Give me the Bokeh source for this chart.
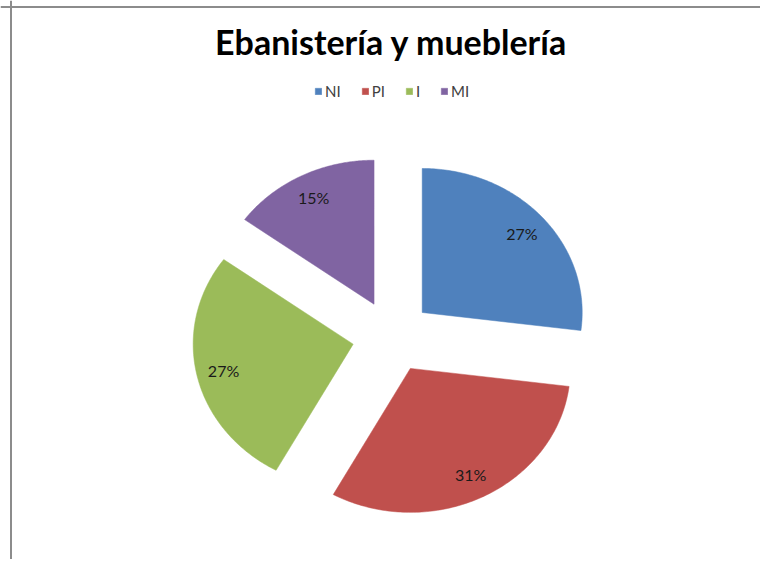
import numpy as np
from bokeh.plotting import figure
from bokeh.models import Range1d, ColumnDataSource, Legend, LegendItem, Label, Span
from bokeh.core.properties import value
from bokeh.embed import file_html
from bokeh.resources import INLINE

# ---- data ----
categories = ["NI", "PI", "I", "MI"]
percent = [27, 31, 27, 15]
colors = ["#4F81BD", "#C0504D", "#9BBB59", "#8064A2"]
title_text = "Ebanistería y mueblería"

# ---- layout (pixel-like data units, y downward) ----
W, H = 760, 559
CX, CY = 391.7, 335.8      # pie centre
RX, RY = 160.0, 144.0      # radii (chart is stretched horizontally)
EXPLODE = 0.25             # slice explosion as fraction of radius
LABEL_POS = 0.83

p = figure(width=W, height=H, output_backend="svg", toolbar_location=None,
           x_range=Range1d(0, W), y_range=Range1d(H, 0),
           min_border=0, outline_line_color=None)
p.axis.visible = False
p.grid.visible = False
p.background_fill_color = "white"
p.border_fill_color = "white"

# frame lines (left and top)
p.add_layout(Span(location=10.5, dimension="height", line_color="#8C8C8C", line_width=2))
p.add_layout(Span(location=6.5, dimension="width", line_color="#8C8C8C", line_width=2))

total = float(sum(percent))
xs, ys, lx, ly, labels = [], [], [], [], []
start = 0.0
for v in percent:
    sweep = 360.0 * v / total
    a0, a1 = np.radians(start), np.radians(start + sweep)
    mid = (a0 + a1) / 2
    ox = CX + EXPLODE * RX * np.sin(mid)
    oy = CY - EXPLODE * RY * np.cos(mid)
    t = np.linspace(a0, a1, 120)
    px = np.concatenate([[ox], ox + RX * np.sin(t)])
    py = np.concatenate([[oy], oy - RY * np.cos(t)])
    xs.append(list(px)); ys.append(list(py))
    lx.append(ox + LABEL_POS * RX * np.sin(mid))
    ly.append(oy - LABEL_POS * RY * np.cos(mid))
    labels.append(f"{round(100 * v / total)}%")
    start += sweep

rends = []
for i in range(len(categories)):
    r = p.patch(x=xs[i], y=ys[i], fill_color=colors[i], line_color=colors[i], line_width=0.5)
    rends.append(r)

lsrc = ColumnDataSource(dict(x=lx, y=ly, text=labels))
p.text(x="x", y="y", text="text", source=lsrc, text_align="center", text_baseline="middle",
       text_font=value("Lato"), text_font_size="16px", text_color="#1A1A1A")

p.add_layout(Label(x=391, y=41, text=title_text, text_align="center", text_baseline="middle",
                   text_font="Lato", text_font_style="bold", text_font_size="34px",
                   text_color="#000000"))

legend = Legend(items=[LegendItem(label=c, renderers=[r]) for c, r in zip(categories, rends)],
                orientation="horizontal", location=(314, 459),
                glyph_width=8, glyph_height=8, label_standoff=3, spacing=20, label_width=0,
                label_text_font="Lato", label_text_font_size="15px", label_text_color="#404040",
                padding=0, margin=0, border_line_color=None, background_fill_alpha=0)
p.add_layout(legend)

open("out.html", "w").write(file_html(p, INLINE))
